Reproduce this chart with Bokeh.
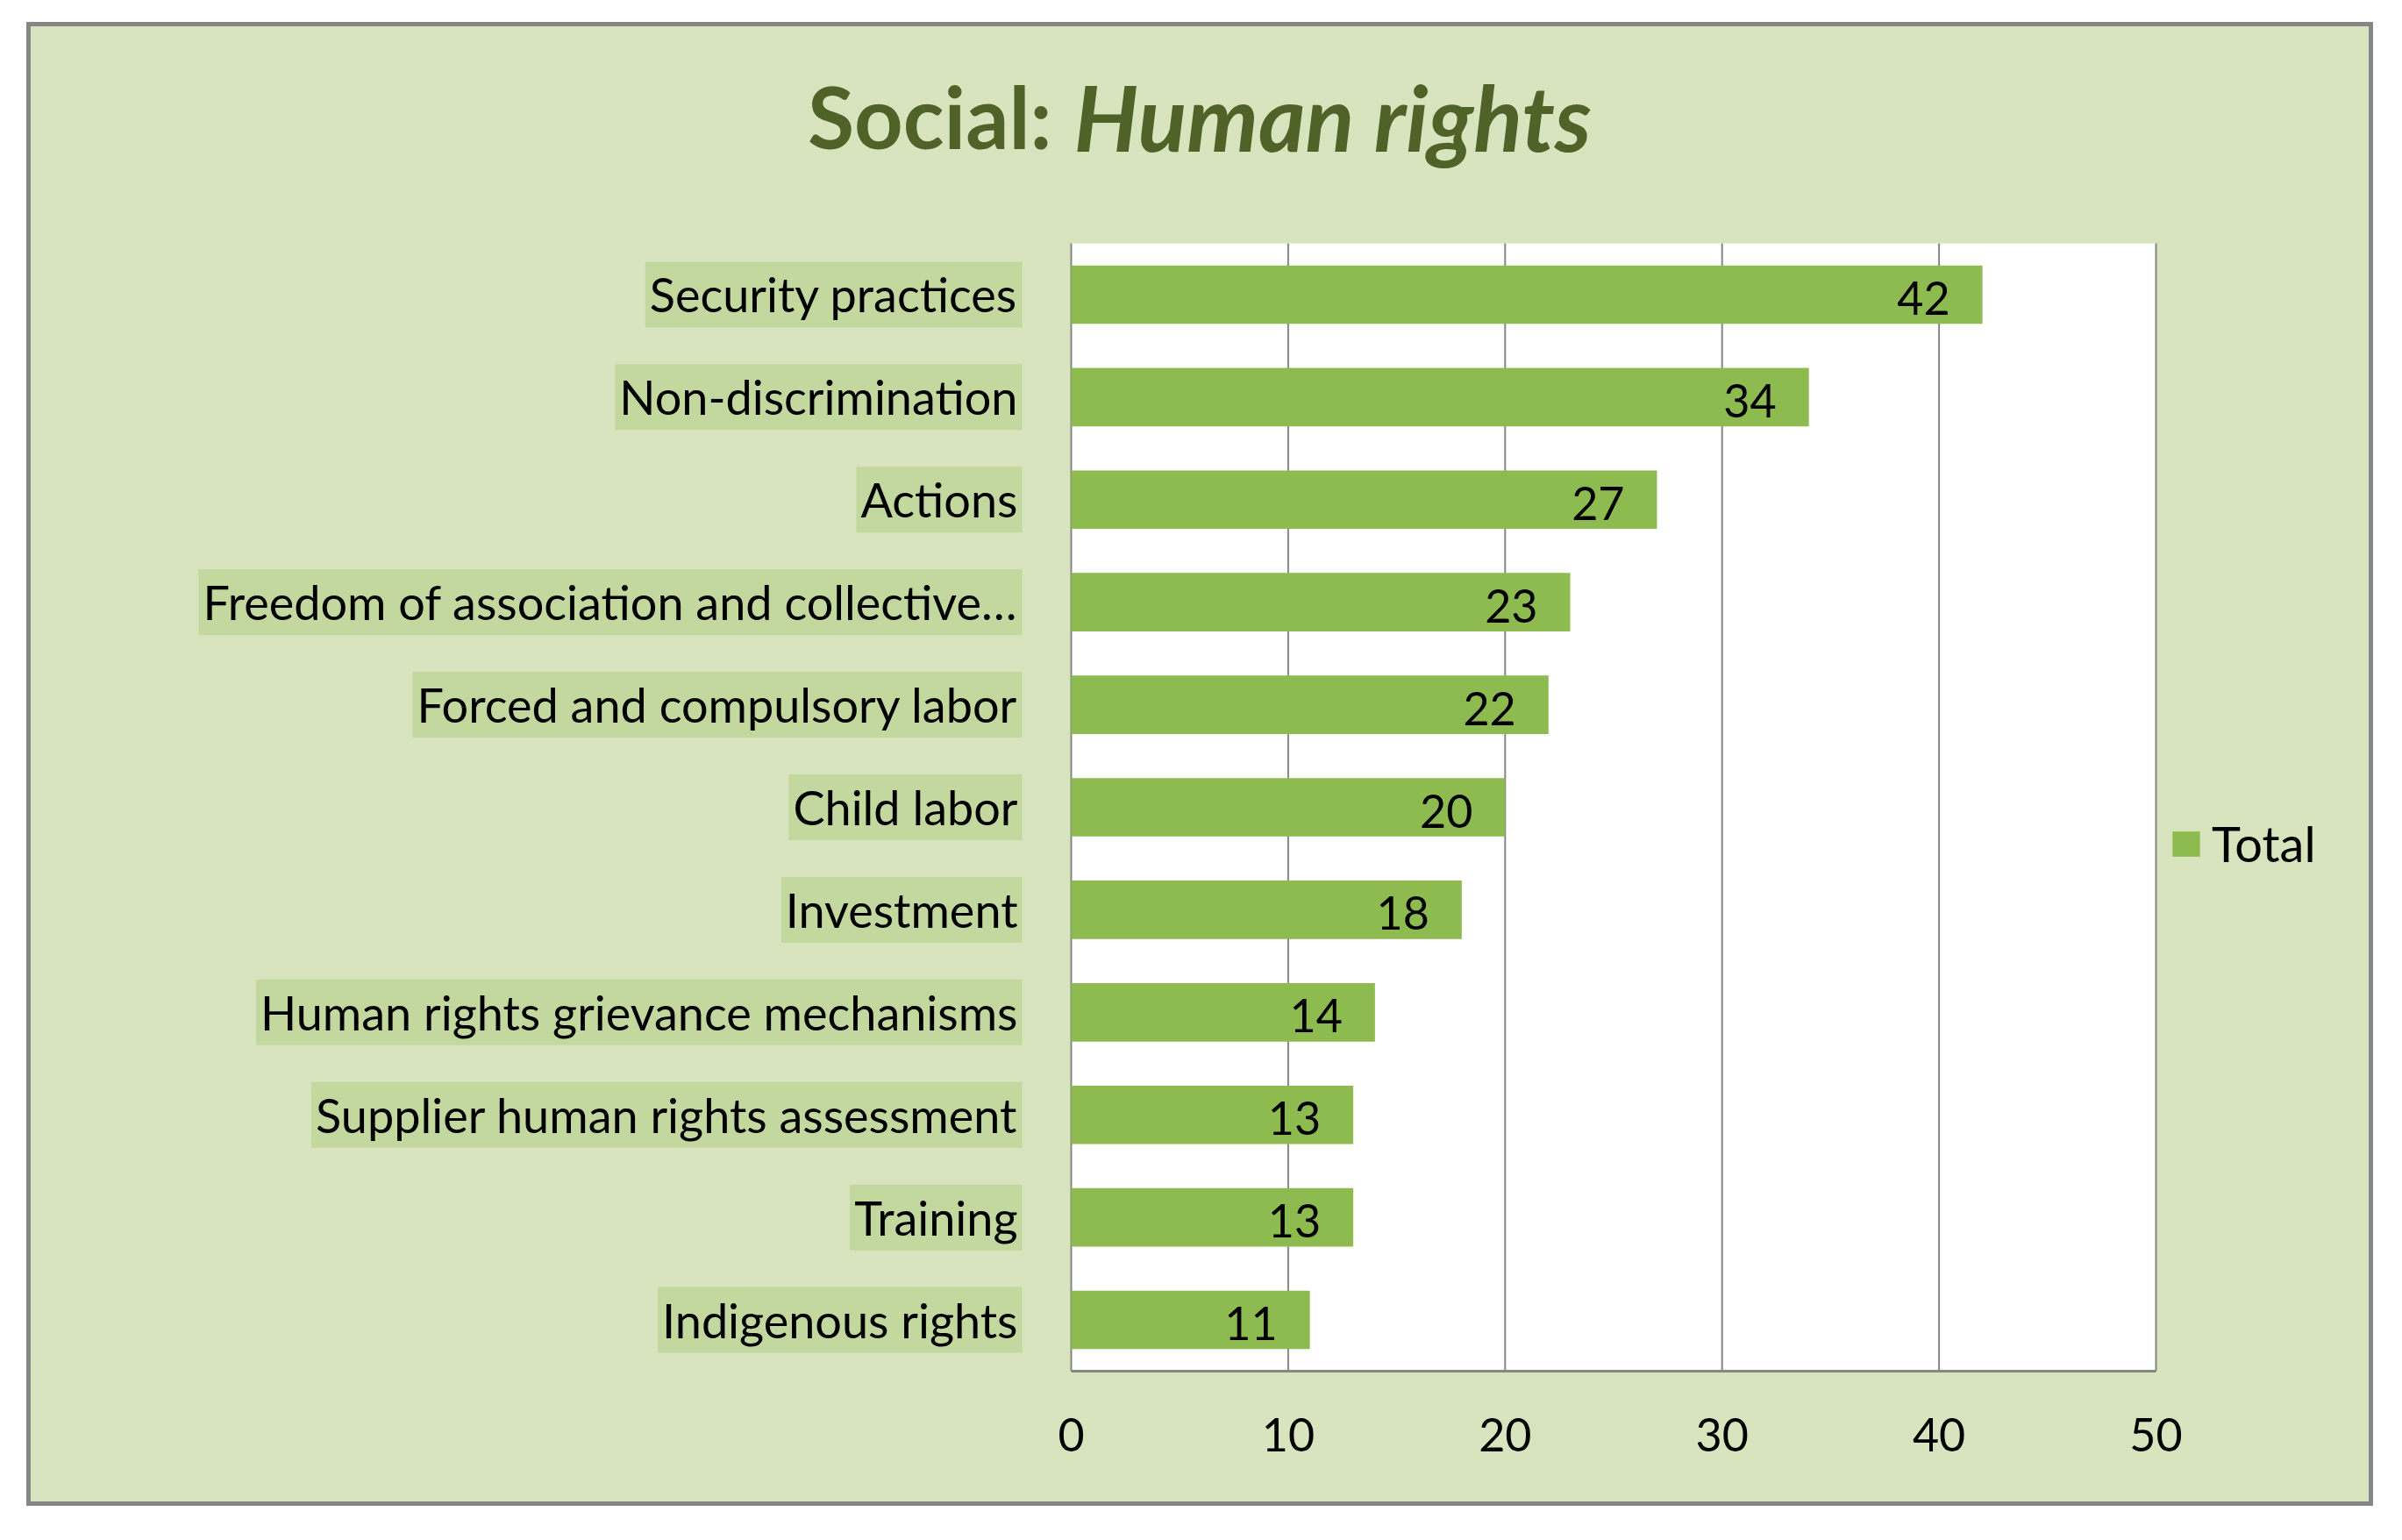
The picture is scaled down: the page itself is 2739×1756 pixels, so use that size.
from bokeh.plotting import figure
from bokeh.models import (ColumnDataSource, Range1d, LabelSet, Label,
                          Legend, LegendItem, FixedTicker)
from bokeh.core.properties import value
from bokeh.embed import file_html
from bokeh.resources import INLINE

categories = ["Security practices", "Non-discrimination", "Actions",
              "Freedom of association and collective\u2026",
              "Forced and compulsory labor", "Child labor", "Investment",
              "Human rights grievance mechanisms", "Supplier human rights assessment",
              "Training", "Indigenous rights"]
totals = [42, 34, 27, 23, 22, 20, 18, 14, 13, 13, 11]
x_ticks = [0, 10, 20, 30, 40, 50]
series_name = "Total"
title_plain = "Social:"
title_italic = "Human rights"

PANEL = "#d7e4bd"
HILITE = "#c3d89f"
BAR = "#8dbb50"
TITLE_C = "#4f6228"
GRAY = "#868686"
FONT = "Lato"

# layout (pixels) of the chart box
BORDER = 5
CW, CH = 2666, 1682            # inner canvas
AREA_L, AREA_W = 1186, 1237    # plot-area left offset / width
AREA_T, AREA_H = 247, 1286     # plot-area top offset / height
BOTTOM = CH - AREA_T - AREA_H  # space under the plot area for the axis

n = len(categories)
ypos = [n - i for i in range(n)]          # top category drawn highest
xmin, xmax = x_ticks[0], x_ticks[-1]
ux = AREA_W / (xmax - xmin)
uy = AREA_H / n

src = ColumnDataSource(dict(cat=categories, val=totals, y=ypos,
                            lab=[str(v) for v in totals], zero=[xmin] * n))
grid_src = ColumnDataSource(dict(x=x_ticks, y0=[0.5] * len(x_ticks),
                                 y1=[n + 0.5] * len(x_ticks)))

x_range = Range1d(xmin - AREA_L / ux, xmax + (CW - AREA_L - AREA_W) / ux)
y_range = Range1d(0.5, 0.5 + (AREA_H + AREA_T) / uy)

p = figure(width=CW, height=CH, output_backend="svg",
           toolbar_location=None, x_range=x_range, y_range=y_range,
           y_axis_location=None,
           min_border_left=0, min_border_right=0, min_border_top=0,
           min_border_bottom=BOTTOM)
p.margin = (30, 0, 0, 35)
p.styles = {"outline": "%dpx solid %s" % (BORDER, GRAY),
            "background-color": PANEL}
p.border_fill_color = PANEL
p.background_fill_color = PANEL
p.outline_line_color = None
p.grid.visible = False

# white plot area
p.quad(left=xmin, right=xmax, bottom=0.5, top=n + 0.5,
       fill_color="white", line_color=None)
# vertical grid lines (incl. category axis line at 0)
p.segment(x0="x", x1="x", y0="y0", y1="y1", source=grid_src,
          line_color=GRAY, line_width=2)

r = p.hbar(y="y", right="val", left=xmin, height=0.57, source=src,
           fill_color=BAR, line_color=None)

# value axis
xa = p.xaxis[0]
xa.ticker = FixedTicker(ticks=x_ticks)
xa.bounds = (xmin, xmax)
xa.axis_line_color = GRAY
xa.axis_line_width = 3
xa.major_tick_line_color = None
xa.minor_tick_line_color = None
xa.major_label_text_font = FONT
xa.major_label_text_font_size = "52px"
xa.major_label_text_color = "black"
xa.major_label_standoff = 47

# category labels with highlight
cat_labels = LabelSet(x="zero", y="y", text="cat", source=src, x_offset=-61,
                      text_align="right", text_baseline="middle",
                      text_font=value(FONT), text_font_size=value("54px"),
                      text_color="black", background_fill_color=HILITE,
                      border_line_color=HILITE, border_line_width=10,
                      border_line_join="miter")
p.add_layout(cat_labels)

# value labels
val_labels = LabelSet(x="val", y="y", text="lab", source=src, x_offset=-37, y_offset=-4,
                      text_align="right", text_baseline="middle",
                      text_font=value(FONT), text_font_size=value("52px"),
                      text_color="black")
p.add_layout(val_labels)

# title (plain bold + bold italic)
title_y = CH - BOTTOM - 102
t1 = Label(x=1164, y=title_y, x_units="screen", y_units="screen", text=title_plain,
           text_align="right", text_baseline="middle", text_font=FONT,
           text_font_size="97px", text_font_style="bold", text_color=TITLE_C)
t2 = Label(x=1189, y=title_y, x_units="screen", y_units="screen", text=title_italic,
           text_align="left", text_baseline="middle", text_font=FONT,
           text_font_size="103px", text_font_style="bold italic", text_color=TITLE_C)
p.add_layout(t1)
p.add_layout(t2)

legend = Legend(items=[LegendItem(label=series_name, renderers=[r])],
                location=(2438, 568), padding=0, margin=0, spacing=0,
                glyph_width=39, glyph_height=36, label_standoff=10,
                label_text_font=FONT, label_text_font_size="56px",
                label_text_color="black", border_line_color=None,
                background_fill_alpha=0)
p.add_layout(legend)

open("out.html", "w").write(file_html(p, INLINE))
